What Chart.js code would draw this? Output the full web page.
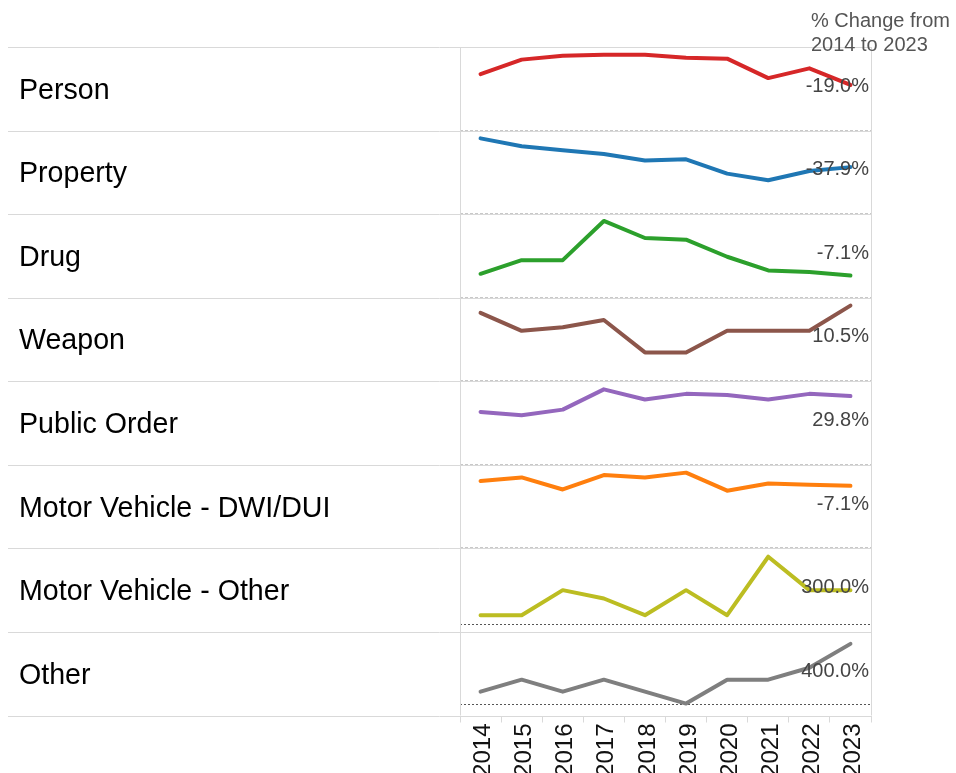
<!DOCTYPE html>
<html>
<head>
<meta charset="utf-8">
<script src="https://cdn.jsdelivr.net/npm/chart.js@4"></script>
<style>
  html, body { margin: 0; background: #fff; }
  #wrap { width: 956px; height: 773px; }
</style>
</head>
<body>
<div id="wrap"><canvas id="c" width="956" height="773"></canvas></div>
<script>
const years = ['2014', '2015', '2016', '2017', '2018', '2019', '2020', '2021', '2022', '2023'];
const categories = ['Person', 'Property', 'Drug', 'Weapon', 'Public Order',
  'Motor Vehicle - DWI/DUI', 'Motor Vehicle - Other', 'Other'];

// yearly counts, one row per category
const person      = [58, 73, 77, 78, 78, 75, 74, 54, 64, 47];
const property    = [58, 52, 49, 46, 41, 42, 31, 26, 33, 36];
const drug        = [14, 22, 22, 45, 35, 34, 24, 16, 15, 13];
const weapon      = [19, 14, 15, 17, 8, 8, 14, 14, 14, 21];
const publicOrder = [47, 44, 49, 67, 58, 63, 62, 58, 63, 61];
const dwi         = [56, 59, 49, 61, 59, 63, 48, 54, 53, 52];
const mvOther     = [1, 1, 4, 3, 1, 4, 1, 8, 4, 4];
const other       = [1, 2, 1, 2, 1, 0, 2, 2, 3, 5];

const series = [person, property, drug, weapon, publicOrder, dwi, mvOther, other];
const yMin = [0, 0, 0, 0, 0, 0, -1, -1];
const yMax = [86, 64, 49, 23.2, 74.2, 69.5, 9, 6];

const colors = ['#d62728', '#1f77b4', '#2ca02c', '#8c564b', '#9467bd', '#ff7f0e', '#bcbd22', '#7f7f7f'];

function hline(ctx, x0, x1, y) {
  ctx.beginPath();
  ctx.moveTo(x0, Math.round(y) + 0.5);
  ctx.lineTo(x1, Math.round(y) + 0.5);
  ctx.stroke();
}

const rowDecor = {
  id: 'rowDecor',
  beforeDatasetsDraw(chart) {
    const { ctx, chartArea: a } = chart;
    ctx.save();
    ctx.lineWidth = 1;
    categories.forEach((c, i) => {
      const s = chart.scales['y' + i];
      ctx.strokeStyle = '#d9d9d9';
      ctx.setLineDash([]);
      hline(ctx, 8, a.right, s.top);
      if (i === categories.length - 1) hline(ctx, 8, a.right, s.bottom);
      // zero line
      const z = s.getPixelForValue(0);
      if (yMin[i] < 0) {
        ctx.strokeStyle = '#555';
        ctx.setLineDash([2, 2]);
      } else {
        ctx.strokeStyle = '#c8c8c8';
        ctx.setLineDash([3, 2]);
      }
      hline(ctx, a.left, a.right, Math.min(z, s.bottom - 1));
    });
    ctx.setLineDash([]);
    ctx.strokeStyle = '#d9d9d9';
    [a.left, a.right].forEach(x => {
      ctx.beginPath();
      ctx.moveTo(Math.round(x) + 0.5, a.top);
      ctx.lineTo(Math.round(x) + 0.5, a.bottom);
      ctx.stroke();
    });
    ctx.restore();
  },
  afterDatasetsDraw(chart) {
    const { ctx, chartArea: a } = chart;
    ctx.save();
    ctx.textBaseline = 'alphabetic';
    categories.forEach((c, i) => {
      const s = chart.scales['y' + i];
      const mid = (s.top + s.bottom) / 2;
      ctx.fillStyle = '#000';
      ctx.textAlign = 'left';
      ctx.font = '28.6px Arial';
      ctx.fillText(c, 19, mid + 10);

      const d = series[i];
      const pct = (d[d.length - 1] / d[0] - 1) * 100;
      ctx.fillStyle = '#444';
      ctx.textAlign = 'right';
      ctx.font = '20px Arial';
      ctx.fillText(pct.toFixed(1) + '%', a.right - 2, mid + 3);
    });
    ctx.fillStyle = '#555';
    ctx.textAlign = 'left';
    ctx.font = '20px Arial';
    ctx.fillText('% Change from', a.right - 60, 27);
    ctx.fillText('2014 to 2023', a.right - 60, 51);
    ctx.restore();
  }
};

const scales = {
  x: {
    type: 'category',
    offset: true,
    grid: { offset: true, drawOnChartArea: false, drawTicks: true, tickLength: 7, color: '#d9d9d9' },
    border: { display: false },
    ticks: {
      autoSkip: false, minRotation: 90, maxRotation: 90, padding: 1, labelOffset: 3,
      color: '#111', font: { family: 'Arial', size: 24 }
    },
    afterFit: s => { s.height = 57.5; }
  }
};
categories.forEach((c, i) => {
  scales['y' + i] = {
    type: 'linear', display: false, position: 'left',
    min: yMin[i], max: yMax[i],
    stack: 'rows', stackWeight: 1, weight: categories.length - i
  };
});

new Chart(document.getElementById('c'), {
  type: 'line',
  data: {
    labels: years,
    datasets: categories.map((c, i) => ({
      label: c,
      data: series[i],
      yAxisID: 'y' + i,
      borderColor: colors[i],
      borderWidth: 4,
      borderCapStyle: 'round',
      borderJoinStyle: 'round',
      pointRadius: 0,
      tension: 0,
      fill: false
    }))
  },
  options: {
    responsive: false,
    animation: false,
    layout: { padding: { left: 460, right: 85, top: 47, bottom: 0 } },
    plugins: { legend: { display: false }, tooltip: { enabled: false } },
    scales
  },
  plugins: [rowDecor]
});
</script>
</body>
</html>
